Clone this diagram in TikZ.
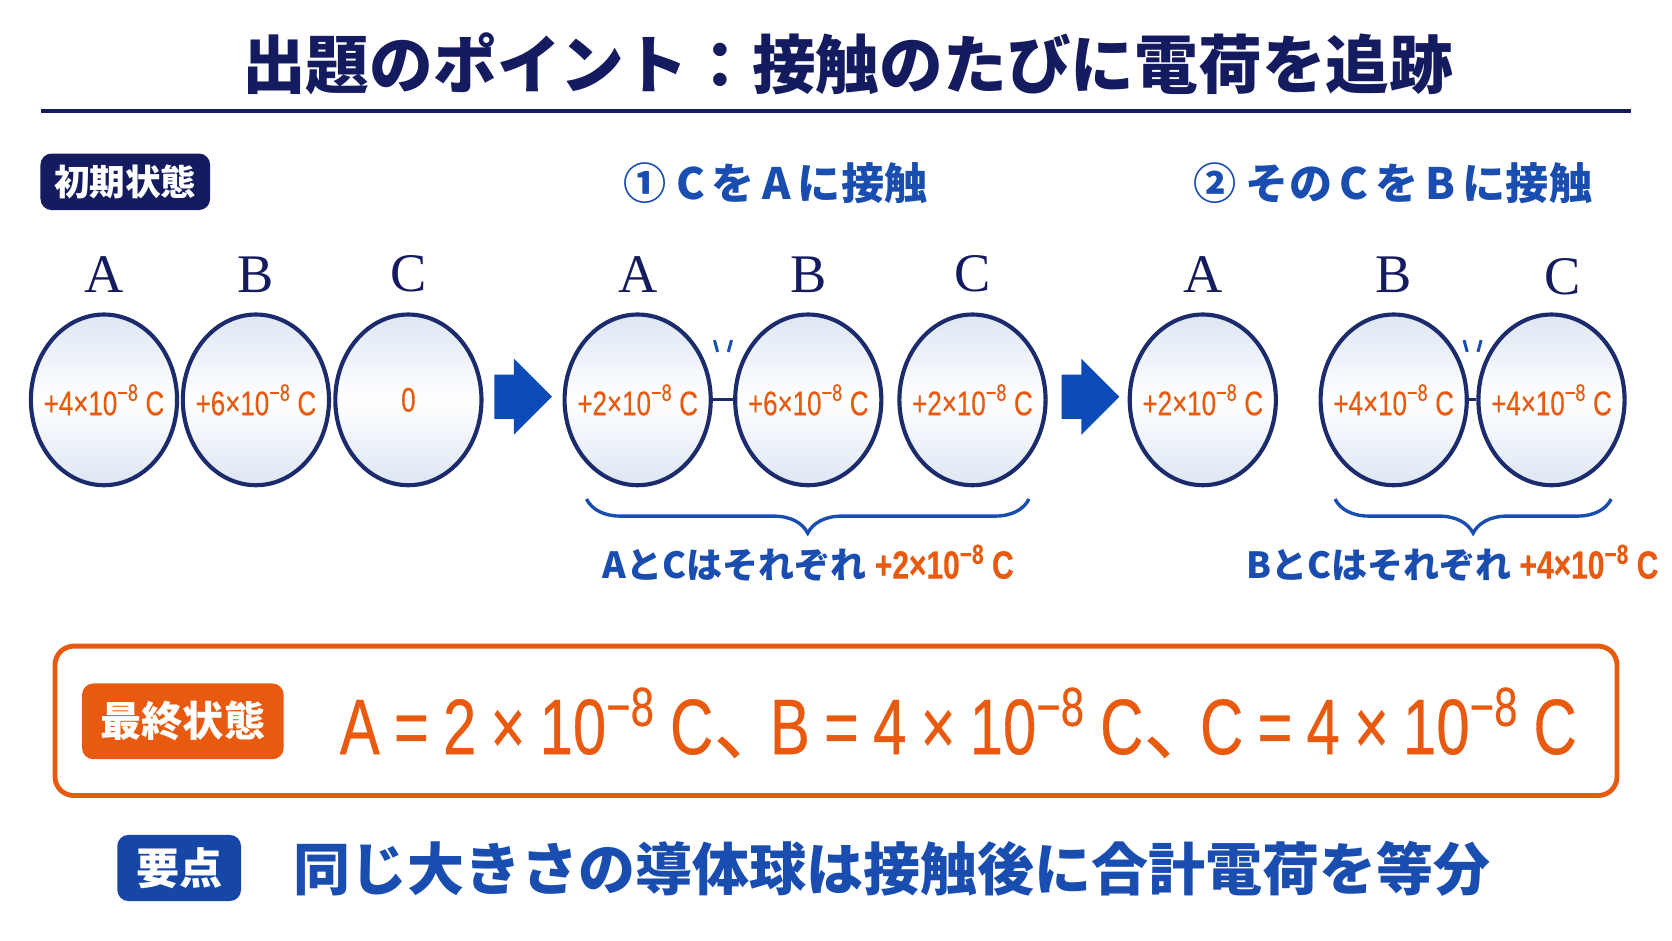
\documentclass[tikz,border=0pt]{standalone}
\usepackage{fontspec}
\setmainfont{Liberation Serif}
\newfontfamily\jp{Noto Sans CJK JP}
\newfontfamily\chgfont{Liberation Sans}[FakeStretch=0.76, FakeBold=0.4]
\usetikzlibrary{arrows.meta,positioning,shapes.geometric,shapes.arrows,calc,decorations.pathreplacing}
\definecolor{navy}{HTML}{141B5E}
\definecolor{ballline}{HTML}{1B2B6B}
\definecolor{ballblue}{HTML}{DDE6F3}
\definecolor{txtblue}{HTML}{1A4DB0}
\definecolor{arrblue}{HTML}{0D4CB8}
\definecolor{tagblue}{HTML}{1747A6}
\definecolor{orng}{HTML}{E85A10}
\newcommand\chg[1]{+#1×10\textsuperscript{−8}\,C}
\newcommand\gap{\hspace{0.18em}}
\tikzset{
  titletext/.style = {font=\jp\bfseries\fontsize{17}{20}\selectfont, text=navy, inner sep=0pt},
  rule/.style      = {draw=navy, line width=0.9pt},
  navytag/.style   = {rectangle, rounded corners=3pt, fill=navy, text=white,
                      font=\jp\bfseries\fontsize{9.5}{11}\selectfont, inner sep=0pt},
  orngtag/.style   = {navytag, fill=orng, font=\jp\bfseries\fontsize{11}{13}\selectfont},
  bluetag/.style   = {navytag, fill=tagblue, font=\jp\bfseries\fontsize{11.5}{13}\selectfont},
  steptitle/.style = {font=\jp\bfseries\fontsize{11.5}{13}\selectfont, text=txtblue, inner sep=0pt},
  ball/.style      = {ellipse, draw=ballline, line width=1.1pt, minimum width=1.37cm,
                      minimum height=1.6cm, top color=ballblue, bottom color=ballblue,
                      middle color=white, inner sep=0pt, text=orng,
                      font=\chgfont\fontsize{9.1}{11}\selectfont,
                      execute at begin node={\hbox to 0pt\bgroup\hss},
                      execute at end node={\hss\egroup}},
  lbl/.style       = {font=\fontsize{14.5}{16}\selectfont, text=navy, inner sep=0pt},
  bigarrow/.style  = {single arrow, fill=arrblue, minimum height=0.54cm, inner xsep=0pt,
                      inner ysep=0.2cm, single arrow head extend=0.15cm, anchor=tail},
  touch/.style     = {draw=ballline, line width=0.8pt},
  spark/.style     = {draw=txtblue, line width=0.8pt},
  brc/.style       = {decorate, decoration={brace, mirror, amplitude=0.32cm},
                      draw=txtblue, line width=0.9pt},
  note/.style      = {font=\jp\bfseries\fontsize{9.6}{12}\selectfont, text=txtblue, inner sep=0pt},
  finalbox/.style  = {rectangle, rounded corners=5pt, draw=orng, line width=1.3pt,
                      minimum width=14.64cm, minimum height=1.4cm}
}
\begin{document}
\begin{tikzpicture}[x=0.01cm, y=-0.01cm]
  \useasboundingbox[fill=white] (0,0) rectangle (1568,882);
  \node[titletext] (title) at (795,60) {出題のポイント：接触のたびに電荷を追跡};
  \draw[rule] (38,104) -- (1530,104);

  \node[navytag, minimum width=1.59cm, minimum height=0.53cm] (init) at (117.5,170.5) {初期状態};
  \node[steptitle] (s1) at (727,172) {①\ C\,を\,A\,に接触};
  \node[steptitle] (s2) at (1306,172) {②\ その\,C\,を\,B\,に接触};

  % initial state
  \node[ball] (a1) at (97.5,375) {\chg{4}};
  \node[ball] (b1) at (240,375) {\chg{6}};
  \node[ball] (c1) at (383,375) {0};
  \node[lbl, above=1.8mm of a1] (la1) {A};
  \node[lbl, above=1.8mm of b1] (lb1) {B};
  \node[lbl, above=1.8mm of c1] (lc1) {C};

  \node[bigarrow] (r1) at (463,372) {};

  % step 1
  \node[ball] (a2) at (598,375) {\chg{2}};
  \node[ball] (b2) at (758,375) {\chg{6}};
  \node[ball] (c2) at (912,375) {\chg{2}};
  \node[lbl, above=1.8mm of a2] (la2) {A};
  \node[lbl, above=1.8mm of b2] (lb2) {B};
  \node[lbl, above=1.8mm of c2] (lc2) {C};
  \draw[touch] (a2.east) -- (b2.west);
  \coordinate (t2) at ($(a2.east)!0.5!(b2.west)$);
  \draw[spark] ($(t2)+(-8,-56)$) -- ++(3,11);
  \draw[spark] ($(t2)+(8,-56)$) -- ++(-3,11);

  \node[bigarrow] (r2) at (995,372) {};

  % step 2
  \node[ball] (a3) at (1128,375) {\chg{2}};
  \node[ball] (b3) at (1307,375) {\chg{4}};
  \node[ball] (c3) at (1455,375) {\chg{4}};
  \node[lbl, above=1.8mm of a3] (la3) {A};
  \node[lbl, above=1.8mm of b3] (lb3) {B};
  \node[lbl] (lc3) at (1465,260) {C};
  \draw[touch] (b3.east) -- (c3.west);
  \coordinate (t3) at ($(b3.east)!0.5!(c3.west)$);
  \draw[spark] ($(t3)+(-8,-56)$) -- ++(3,11);
  \draw[spark] ($(t3)+(8,-56)$) -- ++(-3,11);

  \draw[brc] (550,468) -- (965,468);
  \draw[brc] (1252,468) -- (1511,468);
  \node[note] (n2) at (758,528) {AとCはそれぞれ\ {\chgfont\fontsize{10.5}{12}\selectfont\color{orng}\chg{2}}};
  \node[note] (n3) at (1362,528) {BとCはそれぞれ\ {\chgfont\fontsize{10.5}{12}\selectfont\color{orng}\chg{4}}};

  % final state
  \node[finalbox] (fin) at (784,676) {};
  \node[orngtag, minimum width=1.89cm, minimum height=0.71cm] (fint) at (171.5,676.5) {最終状態};
  \node[anchor=west, inner sep=0pt, text=orng, font=\chgfont\fontsize{21}{24}\selectfont]
    (finv) at (318,678) {A\gap=\gap2\gap×\gap10\textsuperscript{−8}\gap C\makebox[0.72em][l]{\jp 、}B\gap=\gap4\gap×\gap10\textsuperscript{−8}\gap C\makebox[0.72em][l]{\jp 、}C\gap=\gap4\gap×\gap10\textsuperscript{−8}\gap C};

  % key point
  \node[bluetag, minimum width=1.16cm, minimum height=0.62cm] (key) at (168,814) {要点};
  \node[anchor=west, inner sep=0pt, text=txtblue, font=\jp\bfseries\fontsize{15.2}{18}\selectfont]
    (keyt) at (275,815) {同じ大きさの導体球は接触後に合計電荷を等分};
\end{tikzpicture}
\end{document}
